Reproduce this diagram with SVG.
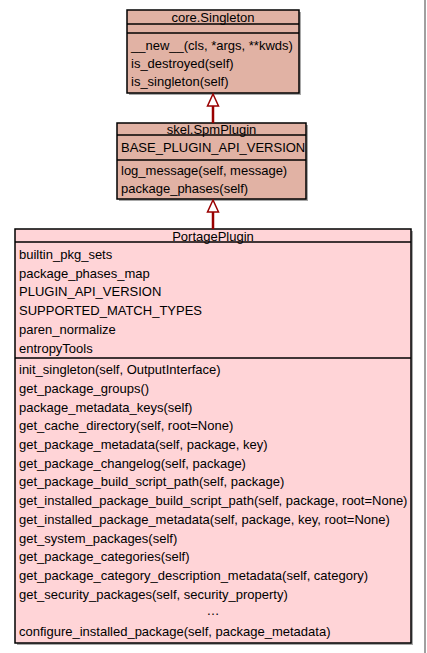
<svg xmlns="http://www.w3.org/2000/svg" width="427" height="653" viewBox="0 0 427 653">
<style>
text{font-family:"Liberation Sans",Arial,sans-serif;font-size:13px;fill:#000}
.t{text-anchor:middle}
.box{stroke:#000;stroke-width:1.5}
.dark{fill:#e1b2a4}
.pink{fill:#ffd4d7}
.sh{fill:#a8a8a8}
.div{stroke:#000;stroke-width:1.5}
.edge{stroke:#990000;stroke-width:2.5;fill:none}
.head{fill:#fff;stroke:#990000;stroke-width:1.5}
</style>
<rect width="427" height="653" fill="#fff"/>
<rect x="424" y="0" width="2" height="653" fill="#a0a0a0"/>
<g id="core_Singleton">
<rect class="sh" x="129" y="12" width="172" height="83"/>
<rect class="box dark" x="127" y="10" width="172" height="83"/>
<line class="div" x1="127" y1="24" x2="299" y2="24"/>
<line class="div" x1="127" y1="33" x2="299" y2="33"/>
<text class="t" x="213" y="21.5">core.Singleton</text>
<text x="131" y="49.5">__new__(cls, *args, **kwds)</text>
<text x="131" y="67.5">is_destroyed(self)</text>
<text x="131" y="85.5">is_singleton(self)</text>
</g>
<g id="skel_SpmPlugin">
<rect class="sh" x="119" y="125" width="189" height="76"/>
<rect class="box dark" x="117" y="123" width="189" height="76"/>
<line class="div" x1="117" y1="135" x2="306" y2="135"/>
<line class="div" x1="117" y1="160" x2="306" y2="160"/>
<text class="t" x="211.5" y="133.5">skel.SpmPlugin</text>
<text x="121" y="151.5">BASE_PLUGIN_API_VERSION</text>
<text x="121" y="174.5">log_message(self, message)</text>
<text x="121" y="192.5">package_phases(self)</text>
</g>
<g id="PortagePlugin">
<rect class="sh" x="17" y="231" width="396" height="414"/>
<rect class="box pink" x="15" y="229" width="396" height="414"/>
<line class="div" x1="15" y1="242" x2="411" y2="242"/>
<line class="div" x1="15" y1="358" x2="411" y2="358"/>
<text class="t" x="213" y="240.5">PortagePlugin</text>
<text x="19" y="259">builtin_pkg_sets</text>
<text x="19" y="277.7">package_phases_map</text>
<text x="19" y="296.4">PLUGIN_API_VERSION</text>
<text x="19" y="315.1">SUPPORTED_MATCH_TYPES</text>
<text x="19" y="333.8">paren_normalize</text>
<text x="19" y="352.5">entropyTools</text>
<text x="19" y="374.2">init_singleton(self, OutputInterface)</text>
<text x="19" y="392.9">get_package_groups()</text>
<text x="19" y="411.6">package_metadata_keys(self)</text>
<text x="19" y="430.3">get_cache_directory(self, root=None)</text>
<text x="19" y="449">get_package_metadata(self, package, key)</text>
<text x="19" y="467.7">get_package_changelog(self, package)</text>
<text x="19" y="486.4">get_package_build_script_path(self, package)</text>
<text x="19" y="505.1">get_installed_package_build_script_path(self, package, root=None)</text>
<text x="19" y="523.8">get_installed_package_metadata(self, package, key, root=None)</text>
<text x="19" y="542.5">get_system_packages(self)</text>
<text x="19" y="561.2">get_package_categories(self)</text>
<text x="19" y="579.9">get_package_category_description_metadata(self, category)</text>
<text x="19" y="598.6">get_security_packages(self, security_property)</text>
<text class="t" x="213" y="615">…</text>
<text x="19" y="636">configure_installed_package(self, package_metadata)</text>
</g>
<g id="connectors">
<g id="skel_to_core">
<line class="edge" x1="213" y1="106" x2="213" y2="123"/>
<polygon class="head" points="213,94 207.5,106 218.5,106"/>
</g>
<g id="portage_to_skel">
<line class="edge" x1="213" y1="212" x2="213" y2="229"/>
<polygon class="head" points="213,200 207.5,212 218.5,212"/>
</g>
</g>
</svg>
